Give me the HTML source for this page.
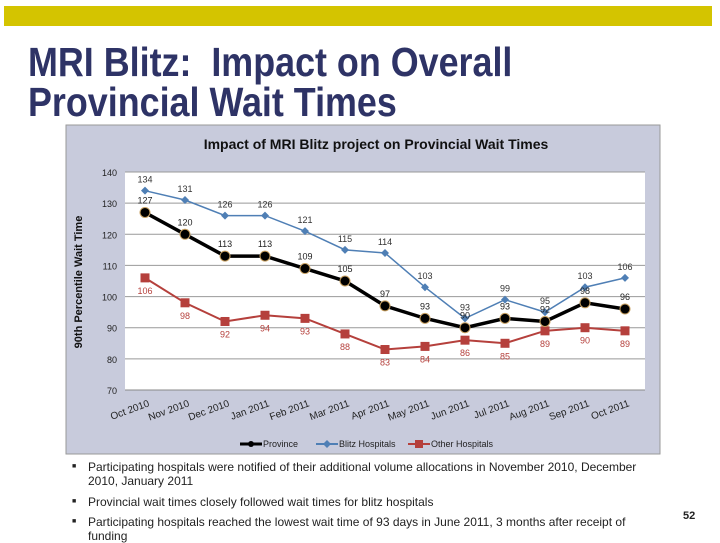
<!DOCTYPE html>
<html><head><meta charset="utf-8"><style>
body{margin:0;width:720px;height:540px;background:#fff;position:relative;overflow:hidden;font-family:"Liberation Sans",Arial,sans-serif}
#bar{position:absolute;left:4px;top:6px;width:708px;height:20px;background:#d4c400}
.t{position:absolute;left:28px;font-weight:bold;color:#2e3366;font-size:41px;transform:scaleX(0.875);transform-origin:left top;white-space:nowrap;font-family:"Liberation Sans Narrow","Liberation Sans",sans-serif}
.b{position:absolute;left:72px;font-size:12px;color:#222;line-height:14px}
.b span{position:absolute;left:0;top:0;font-size:7px}
.b div{margin-left:16px}
</style></head><body>
<div id="bar"></div>
<div class="t" style="top:39px">MRI Blitz:&nbsp; Impact on Overall</div>
<div class="t" style="top:79px">Provincial Wait Times</div>
<svg id="chart" width="720" height="540" style="position:absolute;left:0;top:0"></svg>
<div class="b" style="top:460px;width:570px"><span>■</span><div>Participating hospitals were notified of their additional volume allocations in November 2010, December 2010, January 2011</div></div>
<div class="b" style="top:495px"><span>■</span><div>Provincial wait times closely followed wait times for blitz hospitals</div></div>
<div class="b" style="top:515px;width:570px"><span>■</span><div>Participating hospitals reached the lowest wait time of 93 days in June 2011, 3 months after receipt of funding</div></div>
<div style="position:absolute;left:683px;top:510px;font-size:11px;font-weight:bold;color:#222">52</div>
<script>
const categories=["Oct 2010","Nov 2010","Dec 2010","Jan 2011","Feb 2011","Mar 2011","Apr 2011","May 2011","Jun 2011","Jul 2011","Aug 2011","Sep 2011","Oct 2011"];
const province=[127,120,113,113,109,105,97,93,90,93,92,98,96];
const blitz=[134,131,126,126,121,115,114,103,93,99,95,103,106];
const other=[106,98,92,94,93,88,83,84,86,85,89,90,89];
const yTicks=[70,80,90,100,110,120,130,140];
const NS="http://www.w3.org/2000/svg";
const svg=document.getElementById('chart');
const L=125,R=645,T=172,B=390,ymin=70,ymax=140;
const x=i=>L+(i+0.5)*(R-L)/categories.length;
const y=v=>B-(v-ymin)*(B-T)/(ymax-ymin);
function mk(tag,a,p){const e=document.createElementNS(NS,tag);for(const k in a)e.setAttribute(k,a[k]);(p||svg).appendChild(e);return e;}
let e=mk('rect',{x:66,y:125,width:594,height:329,fill:'#c8cbdc',stroke:'#999'});

e=mk('rect',{x:L,y:T,width:R-L,height:B-T,fill:'#fff'});

e=mk('text',{x:376,y:149,'text-anchor':'middle','font-size':14,'font-weight':'bold',fill:'#111'});e.textContent='Impact of MRI Blitz project on Provincial Wait Times';

e=mk('text',{x:0,y:0,'text-anchor':'middle','font-size':11,'font-weight':'bold',fill:'#111',transform:'translate(82,282) rotate(-90)'});e.textContent='90th Percentile Wait Time';

yTicks.forEach(v=>{
 if(v>ymin){const g=mk('line',{x1:L,x2:R,y1:y(v),y2:y(v),stroke:'#999','stroke-width':1});}
 const t=mk('text',{x:L-8,y:y(v)+4,'text-anchor':'end','font-size':9,fill:'#222'});t.textContent=v;
 
});
e=mk('line',{x1:L,x2:R,y1:B,y2:B,stroke:'#888'});
categories.forEach((c,i)=>{
 const t=mk('text',{x:0,y:0,'text-anchor':'end','font-size':10,fill:'#222',transform:`translate(${x(i)+5},${B+16}) rotate(-20)`});t.textContent=c;
 
});
function series(data,color,w,shape,name,labDy,labColor){
 const ln=mk('polyline',{points:data.map((v,i)=>x(i)+','+y(v)).join(' '),fill:'none',stroke:color,'stroke-width':w});
 
 data.forEach((v,i)=>{
  let m;
  if(shape==='circle')m=mk('circle',{cx:x(i),cy:y(v),r:5,fill:'#000',stroke:'#c8a060','stroke-width':1});
  else if(shape==='diamond')m=mk('polygon',{points:`${x(i)},${y(v)-4} ${x(i)+4},${y(v)} ${x(i)},${y(v)+4} ${x(i)-4},${y(v)}`,fill:color});
  else m=mk('rect',{x:x(i)-4.5,y:y(v)-4.5,width:9,height:9,fill:color});
  
  const t=mk('text',{x:x(i),y:y(v)+labDy,'text-anchor':'middle','font-size':9,fill:labColor});t.textContent=v;
  
 });
}
series(other,'#b5403c',2,'square','other-hospitals',16,'#b5403c');
series(blitz,'#4f7fb5',1.5,'diamond','blitz-hospitals',-8,'#333');
series(province,'#000',3.5,'circle','province',-9,'#222');
const leg=[['Province','#000','circle',240],['Blitz Hospitals','#4f7fb5','diamond',316],['Other Hospitals','#b5403c','square',408]];
leg.forEach(([n,c,s,lx])=>{
 const g=mk('g',{});
 mk('line',{x1:lx,x2:lx+22,y1:444,y2:444,stroke:c,'stroke-width':s==='circle'?3:2},g);
 if(s==='circle')mk('circle',{cx:lx+11,cy:444,r:3,fill:c},g);
 else if(s==='diamond')mk('polygon',{points:`${lx+11},440 ${lx+15},444 ${lx+11},448 ${lx+7},444`,fill:c},g);
 else mk('rect',{x:lx+7,y:440,width:8,height:8,fill:c},g);
 const t=mk('text',{x:lx+23,y:447,'font-size':9,fill:'#222'},g);t.textContent=n;
});
</script>
</body></html>
